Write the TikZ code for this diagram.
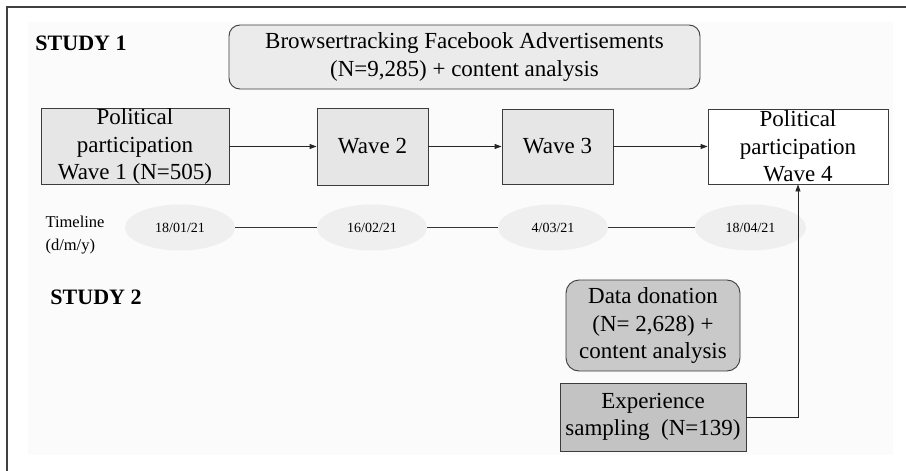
\documentclass[tikz,border=0pt]{standalone}
\usepackage{fontspec}
\setmainfont{Liberation Serif}
\usetikzlibrary{arrows.meta,shapes.geometric}
\definecolor{wavefill}{HTML}{E6E6E6}
\definecolor{topfill}{HTML}{EBEBEB}
\definecolor{ddfill}{HTML}{C9C9C9}
\definecolor{esfill}{HTML}{C3C3C3}
\definecolor{ellfill}{HTML}{EFEFEF}
\definecolor{edge}{HTML}{3C3C3C}
\tikzset{
  box/.style={draw=edge, line width=0.9pt, inner sep=0pt, align=center,
    font=\fontsize{23}{27.5}\selectfont},
  datebox/.style={ellipse, fill=ellfill, inner sep=0pt, font=\fontsize{14}{17}\selectfont},
  arr/.style={draw=black!85, line width=0.9pt, -{Triangle[length=7pt,width=5pt]}},
  tl/.style={draw=black!80, line width=0.9pt},
  heading/.style={font=\fontsize{22}{26}\selectfont\bfseries, inner sep=0pt}
}
\begin{document}
\begin{tikzpicture}[x=1pt,y=-1pt]
\useasboundingbox (0,0) rectangle (906,471);
\fill[white] (0,0) rectangle (906,471);
\fill[black!1.5] (28,22) rectangle (893,455);
\draw[black!75, line width=1.4pt] (906,7) -- (7,7) -- (7,471);

\node[heading] (s1) at (81,43) {STUDY 1};
\node[heading] (s2) at (96,297) {STUDY 2};

\node[box, fill=topfill, rounded corners=11pt, minimum width=471pt, minimum height=64pt] (bt) at (464.5,57)
  {Browsertracking Facebook Advertisements\\(N=9,285) + content analysis};

\node[box, fill=wavefill, minimum width=188pt, minimum height=76pt] (w1) at (135,146.5)
  {Political\\participation\\Wave 1 (N=505)};
\node[box, fill=wavefill, minimum width=111pt, minimum height=77pt] (w2) at (372.5,146.5) {Wave 2};
\node[box, fill=wavefill, minimum width=111pt, minimum height=75pt] (w3) at (557.5,146.5) {Wave 3};
\node[box, fill=white, minimum width=180pt, minimum height=75pt] (w4) at (798,146.5)
  {Political\\participation\\Wave 4};

\draw[arr] (w1.east) -- (w2.west);
\draw[arr] (w2.east) -- (w3.west);
\draw[arr] (w3.east) -- (w4.west);

\node[inner sep=0pt, align=left, font=\fontsize{16.5}{23}\selectfont] (tlab) at (75,235) {Timeline\\(d/m/y)};

\node[datebox, minimum width=110pt, minimum height=46pt] (d1) at (180,227.5) {18/01/21};
\node[datebox, minimum width=110pt, minimum height=46pt] (d2) at (372,227.5) {16/02/21};
\node[datebox, minimum width=110pt, minimum height=46pt] (d3) at (553,227.5) {4/03/21};
\node[datebox, minimum width=111pt, minimum height=46pt] (d4) at (750.5,227.5) {18/04/21};

\draw[tl] (d1.east) -- (d2.west);
\draw[tl] (d2.east) -- (d3.west);
\draw[tl] (d3.east) -- (d4.west);

\node[box, fill=ddfill, rounded corners=13pt, minimum width=174pt, minimum height=91pt] (dd) at (653,325.5)
  {Data donation\\(N= 2,628) +\\content analysis};
\node[box, fill=esfill, minimum width=186pt, minimum height=68pt] (es) at (653,417)
  {Experience\\sampling\ \ (N=139)};

\draw[arr] (es.east) -| (w4.south);
\end{tikzpicture}
\end{document}
